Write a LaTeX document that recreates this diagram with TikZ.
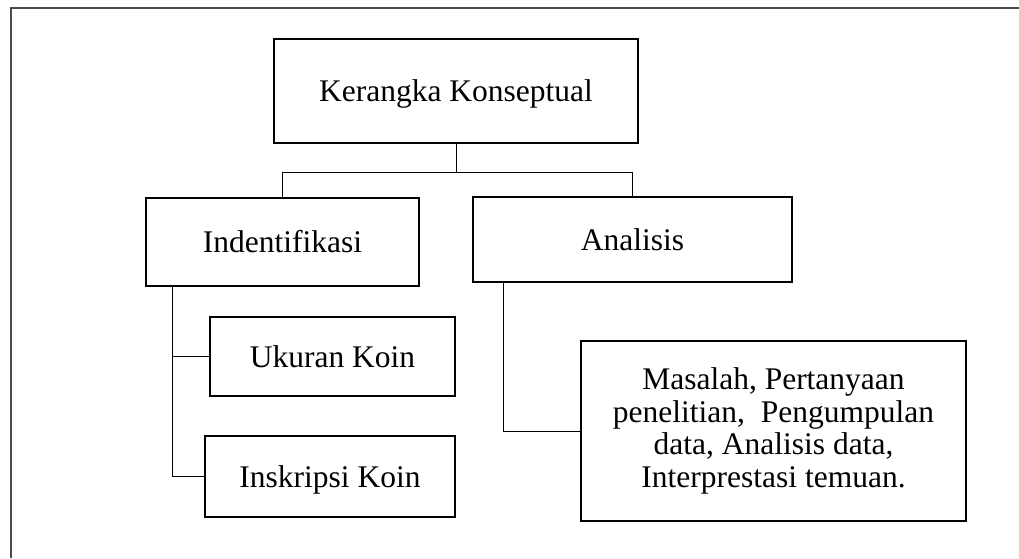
\documentclass[tikz,border=0pt]{standalone}
\usepackage{fontspec}
\setmainfont{Liberation Serif}
\usepackage{tikz}
\usetikzlibrary{positioning, calc}
\usepackage{xcolor}
\definecolor{frameGrey}{HTML}{4A4A4A}

\begin{document}
\begin{tikzpicture}[x=1pt, y=-1pt,
    kotak/.style={draw, line width=2.4pt, fill=white, inner sep=0pt,
                  font=\fontsize{31.5}{32.5}\selectfont, text height=21pt, text depth=0pt},
    kotakbesar/.style={draw, line width=2.4pt, fill=white, inner sep=0pt, align=center,
                  font=\fontsize{31.5}{32.5}\selectfont},
    garis/.style={line width=1pt}]
  \useasboundingbox (0,0) rectangle (1019,558);
  % frame (only left and top edges inside the page)
  \draw[frameGrey, line width=2pt] (11,558) |- (1019,8);
  % boxes
  \node[kotak, minimum width=364pt, minimum height=104pt] (konsep) at (456,91) {Kerangka Konseptual};
  \node[kotak, minimum width=273pt, minimum height=88pt] (ident) at (282.5,242) {Indentifikasi};
  \node[kotak, minimum width=319pt, minimum height=85pt] (analisis) at (632.5,239.5) {Analisis};
  \node[kotak, minimum width=245pt, minimum height=79pt] (ukuran) at (332.5,356.5) {Ukuran Koin};
  \node[kotak, minimum width=250pt, minimum height=81pt] (inskripsi) at (330,476.5) {Inskripsi Koin};
  \node[kotakbesar, minimum width=385pt, minimum height=180pt] (proses) at (773.5,431)
    {Masalah, Pertanyaan\\penelitian,~ Pengumpulan\\data, Analisis data,\\Interprestasi temuan.};
  % connectors
  \coordinate (bus) at ($(konsep.south)+(0,28)$);
  \draw[garis] (konsep.south) -- (bus);
  \draw[garis] (ident.north) |- (bus) -| (analisis.north);
  \coordinate (kiri) at ($(ident.south west)+(28,0)$);
  \draw[garis] (kiri) |- (ukuran.west);
  \draw[garis] (kiri) |- (inskripsi.west);
  \coordinate (kanan) at ($(analisis.south west)+(32,0)$);
  \draw[garis] (kanan) |- (proses.west);
\end{tikzpicture}
\end{document}
